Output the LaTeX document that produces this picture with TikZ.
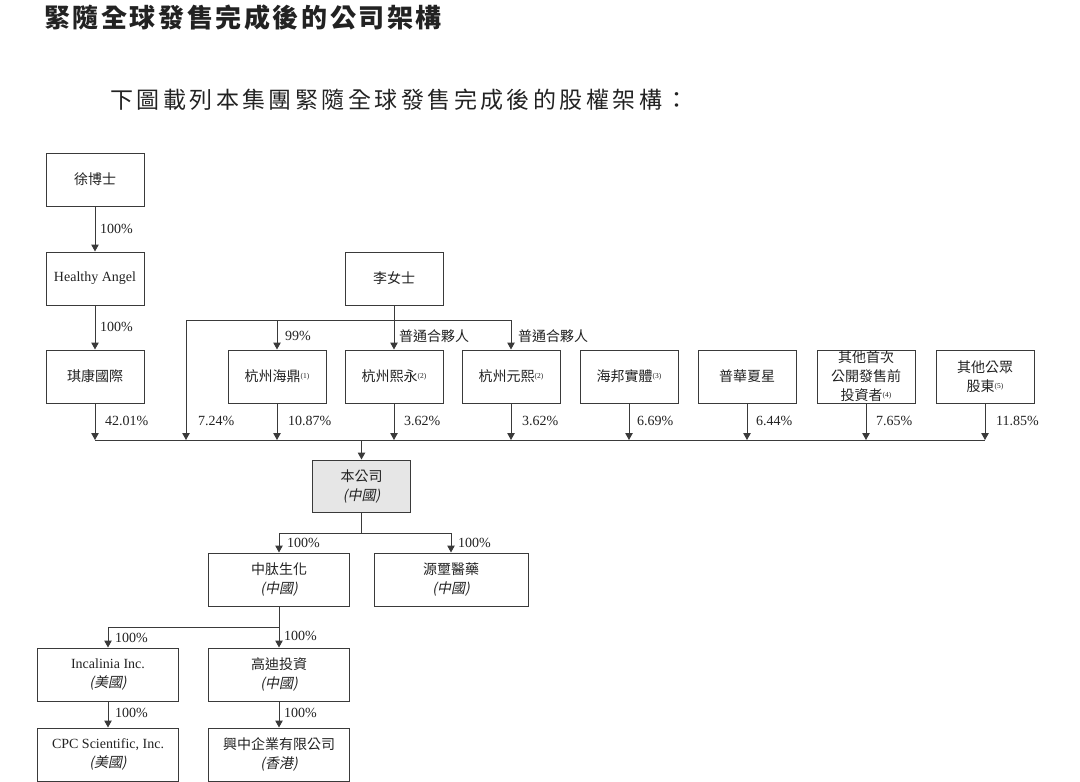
\documentclass[tikz,border=0pt]{standalone}
\usepackage{fontspec}
\setmainfont{Liberation Serif}
\newfontfamily\cjk{Noto Sans CJK TC}
\newfontfamily\cjktitle{Noto Sans CJK TC}[LetterSpace=10]
\newfontfamily\cjksub{Noto Sans CJK TC}[LetterSpace=15]
\newfontfamily\cjkit{Noto Sans CJK TC}[FakeSlant=0.2]
\usetikzlibrary{arrows.meta}
\definecolor{linec}{HTML}{3A3A3A}
\definecolor{txt}{HTML}{222222}
\definecolor{grayfill}{HTML}{E6E6E6}
\newcommand\sups[1]{\raisebox{3pt}{\fontsize{7.5}{7.5}\selectfont\rmfamily(#1)}}
\newcommand\place[1]{{\cjkit (#1)}}
\tikzset{
  box/.style={draw=linec, line width=1pt, minimum width=98pt, minimum height=53pt,
    inner sep=1pt, align=center, font=\fontsize{14}{19}\selectfont\cjk, text=txt},
  wbox/.style={box, minimum width=141pt},
  conn/.style={draw=linec, line width=1pt},
  arr/.style={conn, -{Triangle[length=7pt,width=7.5pt]}},
  pct/.style={anchor=west, inner sep=0, font=\fontsize{14}{14}\selectfont\rmfamily, text=txt},
  gp/.style={anchor=west, inner sep=0, font=\fontsize{14}{14}\selectfont\cjk, text=txt},
}
\begin{document}
\begin{tikzpicture}[x=1pt,y=-1pt]
\useasboundingbox (0,0) rectangle (1080,782);
% titles
\node[anchor=west, inner sep=0, text=txt, font=\fontsize{26}{26}\selectfont\cjktitle\bfseries] (title) at (44,18) {緊隨全球發售完成後的公司架構};
\node[anchor=west, inner sep=0, text=txt, font=\fontsize{23}{23}\selectfont\cjksub] (sub) at (110,100) {下圖載列本集團緊隨全球發售完成後的股權架構：};
% top chain
\node[box] (xu) at (95,179.5) {徐博士};
\node[box] (ha) at (95,278.5) {\rmfamily Healthy Angel};
\node[box] (qk) at (95,376.5) {琪康國際};
\node[box] (li) at (394,278.5) {李女士};
% row of shareholders
\node[box] (hd) at (277,376.5) {杭州海鼎\sups{1}};
\node[box] (xy) at (394,376.5) {杭州熙永\sups{2}};
\node[box] (yx) at (511,376.5) {杭州元熙\sups{2}};
\node[box] (hb) at (629,376.5) {海邦實體\sups{3}};
\node[box] (ph) at (747,376.5) {普華夏星};
\node[box] (qt) at (866,376.5) {其他首次\\公開發售前\\投資者\sups{4}};
\node[box] (gz) at (985,376.5) {其他公眾\\股東\sups{5}};
% company
\node[box, fill=grayfill, minimum width=97.5pt, minimum height=52pt] (bgs) at (361.5,486) {本公司\\\place{中國}};
\node[wbox] (zt) at (279,579.5) {中肽生化\\\place{中國}};
\node[box, minimum width=154pt] (ysy) at (451,579.5) {源壐醫藥\\\place{中國}};
\node[wbox] (inc) at (108,674.5) {\rmfamily Incalinia Inc.\\\place{美國}};
\node[wbox] (gd) at (279,674.5) {高迪投資\\\place{中國}};
\node[wbox] (cpc) at (108,754.5) {\rmfamily CPC Scientific, Inc.\\\place{美國}};
\node[wbox] (xz) at (279,754.5) {興中企業有限公司\\\place{香港}};
% coordinates
\coordinate (busL) at (95,440);
\coordinate (busR) at (985,440);
\coordinate (gpL) at (186,320);
\coordinate (gpR) at (511,320);
\coordinate (j1) at (361.5,533);
\coordinate (j2) at (279,627);
% top connectors
\draw[arr] (xu) -- (ha);
\node[pct] (p1) at (100,229) {100\%};
\draw[arr] (ha) -- (qk);
\node[pct] (p2) at (100,327) {100\%};
% li lines
\draw[conn] (gpL) -- (gpR);
\draw[arr] (li) -- (xy);
\draw[arr] (gpL) -- (gpL |- busL);
\draw[arr] (hd.north |- gpL) -- (hd.north);
\draw[arr] (gpR) -- (yx.north);
\node[pct] (p99) at (285,336) {99\%};
\node[gp] (g1) at (399,336) {普通合夥人};
\node[gp] (g2) at (518,336) {普通合夥人};
% bus
\draw[conn] (busL) -- (busR);
\foreach \n in {qk,hd,xy,yx,hb,ph,qt,gz}{
  \draw[arr] (\n.south) -- (\n.south |- busL);
}
\node[pct] (s1) at (105,421) {42.01\%};
\node[pct] (s2) at (198,421) {7.24\%};
\node[pct] (s3) at (288,421) {10.87\%};
\node[pct] (s4) at (404,421) {3.62\%};
\node[pct] (s5) at (522,421) {3.62\%};
\node[pct] (s6) at (637,421) {6.69\%};
\node[pct] (s7) at (756,421) {6.44\%};
\node[pct] (s8) at (876,421) {7.65\%};
\node[pct] (s9) at (996,421) {11.85\%};
\draw[arr] (bgs.north |- busL) -- (bgs.north);
% lower connectors
\draw[conn] (bgs.south) -- (j1);
\draw[conn] (j1 -| zt) -- (j1 -| ysy);
\draw[arr] (j1 -| zt) -- (zt.north);
\draw[arr] (j1 -| ysy) -- (ysy.north);
\node[pct] (q1) at (287,543) {100\%};
\node[pct] (q2) at (458,543) {100\%};
\draw[conn] (j2) -- (j2 -| inc);
\draw[arr] (j2 -| inc) -- (inc.north);
\draw[arr] (zt.south) -- (gd.north);
\node[pct] (q3) at (115,638) {100\%};
\node[pct] (q4) at (284,636) {100\%};
\draw[arr] (inc) -- (cpc);
\draw[arr] (gd) -- (xz);
\node[pct] (q5) at (115,713) {100\%};
\node[pct] (q6) at (284,713) {100\%};
\end{tikzpicture}
\end{document}
